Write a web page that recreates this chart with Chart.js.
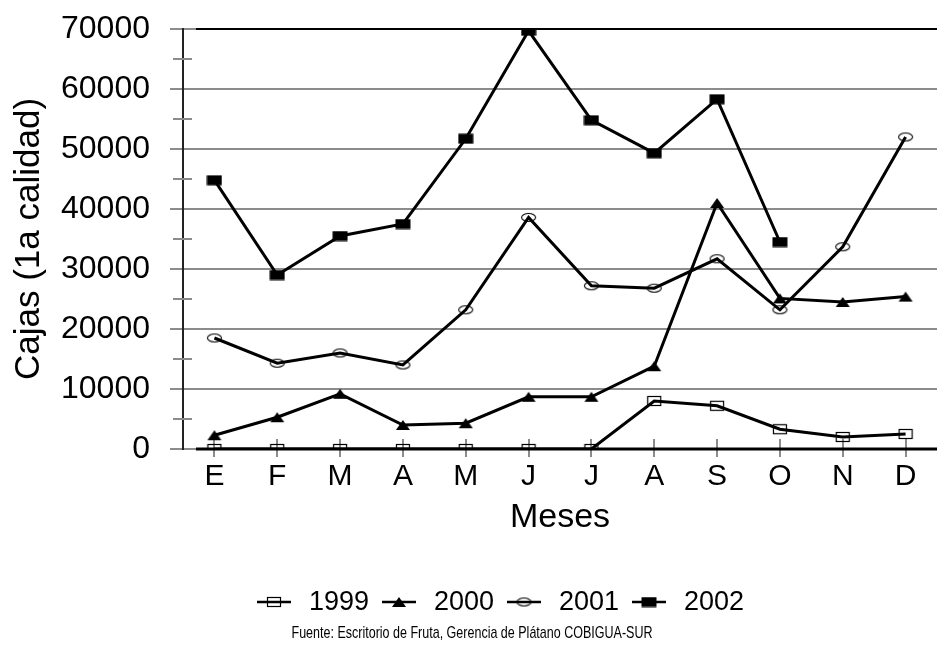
<!DOCTYPE html>
<html>
<head>
<meta charset="utf-8">
<script src="https://cdn.jsdelivr.net/npm/chart.js@4/dist/chart.umd.min.js"></script>
<style>
  html, body { margin: 0; padding: 0; background: #fff; overflow: hidden; }
  canvas { display: block; }
</style>
</head>
<body>
<canvas id="chart" width="946" height="648" style="width:946px;height:648px"></canvas>
<script>
// data
const months = ['E', 'F', 'M', 'A', 'M', 'J', 'J', 'A', 'S', 'O', 'N', 'D'];
const years = ['1999', '2000', '2001', '2002'];
const cajas1999 = [0, 0, 0, 0, 0, 0, 0, 8000, 7200, 3300, 2000, 2500];
const cajas2000 = [2300, 5300, 9200, 4000, 4300, 8700, 8700, 13800, 41000, 25100, 24500, 25400];
const cajas2001 = [18500, 14300, 16000, 14000, 23200, 38600, 27200, 26800, 31700, 23200, 33700, 52000];
const cajas2002 = [44800, 29000, 35500, 37500, 51700, 69700, 54800, 49300, 58300, 34500, null, null];
const yMinorTicks = [5000, 15000, 25000, 35000, 45000, 55000, 65000];
const sourceNote = 'Fuente: Escritorio de Fruta, Gerencia de Plátano COBIGUA-SUR';

const FONT = '"Liberation Sans", Arial, sans-serif';
const GRID = '#8c8c8c';

/** Build a small canvas used as a point marker
 *
 * @param {string} kind marker shape
 * @return {HTMLCanvasElement}
 */
function makeMarker(kind) {
  const c = document.createElement('canvas');
  const g = c.getContext('2d');
  g.strokeStyle = '#000';
  g.fillStyle = '#000';
  g.lineWidth = 1.2;
  if (kind === 'openSquare') {
    c.width = 16; c.height = 12;
    g.lineWidth = 1.2;
    g.strokeRect(1.5, 1.5, 13, 9);
  } else if (kind === 'triangle') {
    c.width = 16; c.height = 12;
    g.beginPath();
    g.moveTo(8, 1); g.lineTo(15, 11); g.lineTo(1, 11);
    g.closePath(); g.fill();
  } else if (kind === 'ellipse') {
    c.width = 17; c.height = 11;
    g.lineWidth = 1.1;
    g.beginPath();
    g.ellipse(8.5, 5.5, 7, 4, 0, 0, Math.PI * 2);
    g.stroke();
  } else {
    c.width = 16; c.height = 11;
    g.fillRect(0.5, 0.5, 15, 10);
  }
  return c;
}

const markers = [makeMarker('openSquare'), makeMarker('triangle'), makeMarker('ellipse'), makeMarker('filledSquare')];
const series = [cajas1999, cajas2000, cajas2001, cajas2002];

function line(ctx, x1, y1, x2, y2) {
  ctx.beginPath();
  ctx.moveTo(x1, y1);
  ctx.lineTo(x2, y2);
  ctx.stroke();
}

const decorations = {
  id: 'decorations',
  beforeDatasetsDraw(chart) {
    const {ctx, chartArea: a, scales: {x, y}} = chart;
    ctx.save();
    ctx.strokeStyle = GRID;
    ctx.lineWidth = 2;
    yMinorTicks.forEach((v) => {
      const py = Math.round(y.getPixelForValue(v));
      line(ctx, a.left - 10, py, a.left + 9, py);
    });
    months.forEach((m, i) => {
      const px = Math.round(x.getPixelForValue(i));
      line(ctx, px, a.bottom - 10, px, a.bottom + 8);
    });
    ctx.strokeStyle = '#000';
    ctx.lineWidth = 2;
    line(ctx, a.left + 13, a.top, a.right, a.top);
    ctx.lineWidth = 3;
    line(ctx, a.left + 13, a.bottom, a.right, a.bottom);
    ctx.restore();
  },
  afterDraw(chart) {
    const {ctx} = chart;
    ctx.save();
    // legend: line + marker, then year
    const legendY = 602;
    years.forEach((yr, i) => {
      const x0 = 257 + i * 125;
      ctx.strokeStyle = '#000';
      ctx.lineWidth = 2.5;
      line(ctx, x0, legendY, x0 + 34, legendY);
      const m = markers[i];
      ctx.drawImage(m, x0 + 17 - m.width / 2, legendY - m.height / 2);
      ctx.fillStyle = '#000';
      ctx.font = '27px ' + FONT;
      ctx.textAlign = 'left';
      ctx.textBaseline = 'middle';
      ctx.fillText(yr, x0 + 52, legendY + 1);
    });
    // source note, narrow face
    ctx.font = '17px ' + FONT;
    const w = ctx.measureText(sourceNote).width;
    ctx.translate(472, 633);
    ctx.scale(361 / w, 1);
    ctx.textAlign = 'center';
    ctx.textBaseline = 'middle';
    ctx.fillText(sourceNote, 0, 0);
    ctx.restore();
  },
};

new Chart(document.getElementById('chart'), {
  type: 'line',
  data: {
    labels: months,
    datasets: series.map((d, i) => ({
      label: years[i],
      data: d,
      borderColor: '#000',
      borderWidth: 3,
      pointStyle: markers[i],
      pointRadius: 6,
      tension: 0,
      spanGaps: false,
    })),
  },
  options: {
    responsive: false,
    animation: false,
    layout: {padding: {top: 29, right: 1, bottom: 0, left: 0}},
    plugins: {
      legend: {display: false},
      tooltip: {enabled: false},
    },
    scales: {
      x: {
        offset: true,
        afterFit: (scale) => { scale.height = 199; },
        grid: {display: false, drawTicks: false},
        border: {display: false},
        ticks: {
          color: '#000',
          padding: 10,
          maxRotation: 0,
          autoSkip: false,
          font: {family: FONT, size: 30},
        },
        title: {
          display: true,
          text: 'Meses',
          color: '#000',
          font: {family: FONT, size: 34},
          padding: {top: 0, bottom: 110},
        },
      },
      y: {
        min: 0,
        max: 70000,
        afterFit: (scale) => {
          scale.width = 183;
          scale.paddingTop = 0;
          scale.paddingBottom = 0;
        },
        grid: {color: GRID, lineWidth: 2, tickColor: GRID, tickLength: 13},
        border: {display: true, color: '#222', width: 2},
        ticks: {
          stepSize: 10000,
          color: '#000',
          padding: 20,
          font: {family: FONT, size: 32},
          callback: (v) => String(v),
        },
        title: {
          display: true,
          text: 'Cajas (1a calidad)',
          color: '#000',
          font: {family: FONT, size: 35},
          padding: {top: 8, bottom: 0},
        },
      },
    },
  },
  plugins: [decorations],
});
</script>
</body>
</html>
